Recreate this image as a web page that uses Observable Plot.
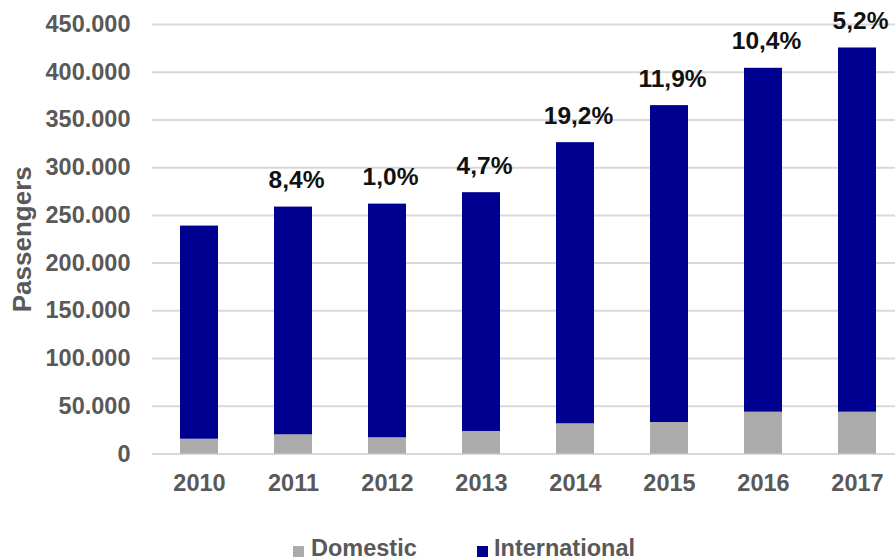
<!DOCTYPE html>
<html>
<head>
<meta charset="utf-8">
<script src="https://cdn.jsdelivr.net/npm/d3@7"></script>
<script src="https://cdn.jsdelivr.net/npm/@observablehq/plot@0.6"></script>
<style>
  html, body { margin: 0; padding: 0; background: #fff; }
  #wrap { width: 895px; height: 560px; position: relative; overflow: hidden; font-family: "Liberation Sans", Arial, sans-serif; }
  #chart svg { display: block; }
  #legend { position: absolute; left: 0; top: 520px; width: 895px; height: 40px; }
  .item { position: absolute; top: 15px; font-size: 23.5px; font-weight: bold; color: #595959; line-height: 27px; white-space: nowrap; }
  .sw { position: absolute; width: 11px; height: 11px; }
</style>
</head>
<body>
<div id="wrap">
  <div id="chart"></div>
  <div id="legend">
    <div class="sw" style="left:293px; top:26px; background:#ababab;"></div>
    <div class="item" style="left:311px;">Domestic</div>
    <div class="sw" style="left:477px; top:26px; background:#000090;"></div>
    <div class="item" style="left:494px;">International</div>
  </div>
</div>
<script>
const years = ["2010", "2011", "2012", "2013", "2014", "2015", "2016", "2017"];
const domestic = [15500, 20100, 17000, 23600, 31600, 33000, 43800, 43800];
const international = [223300, 238600, 244800, 250200, 294600, 332000, 360300, 381600];
const growthLabels = ["", "8,4%", "1,0%", "4,7%", "19,2%", "11,9%", "10,4%", "5,2%"];
const yTicks = [0, 50000, 100000, 150000, 200000, 250000, 300000, 350000, 400000, 450000];
const seriesNames = ["Domestic", "International"];
const seriesColors = ["#ababab", "#000090"];

const rows = [];
years.forEach((y, i) => {
  rows.push({year: y, series: "Domestic", value: domestic[i]});
  rows.push({year: y, series: "International", value: international[i]});
});
const totals = years.map((y, i) => ({year: y, total: domestic[i] + international[i], label: growthLabels[i]}));

const fmt = d => d3.format(",")(d).replace(/,/g, ".");

const chart = Plot.plot({
  width: 895,
  height: 520,
  marginTop: 24,
  marginBottom: 66.5,
  marginLeft: 152,
  marginRight: 0,
  style: {fontFamily: "'Liberation Sans', Arial, sans-serif", background: "#fff"},
  x: {domain: years, range: [152, 904], paddingInner: 0.6, paddingOuter: 0.3, label: null},
  y: {domain: [0, 450000], label: null},
  color: {domain: seriesNames, range: seriesColors},
  marks: [
    Plot.ruleY(yTicks, {stroke: "#d9d9d9", strokeWidth: 2}),
    Plot.barY(rows, {x: "year", y: "value", fill: "series", order: seriesNames}),
    Plot.text(totals, {x: "year", y: "total", text: "label", dy: -19, dx: 3, lineAnchor: "bottom", fontSize: 24.5, fontWeight: "bold", fill: "#111"}),
    Plot.axisY({ticks: yTicks, tickFormat: fmt, tickSize: 0, tickPadding: 22, fontSize: 23.5, fontWeight: "bold", fill: "#595959", label: null}),
    Plot.axisX({tickSize: 0, tickPadding: 20, fontSize: 23.5, fontWeight: "bold", fill: "#595959", label: null}),
    Plot.text(["Passengers"], {frameAnchor: "left", dx: -130, rotate: -90, fontSize: 26, fontWeight: "bold", fill: "#595959", textAnchor: "middle"})
  ]
});
document.getElementById("chart").appendChild(chart);
</script>
</body>
</html>
